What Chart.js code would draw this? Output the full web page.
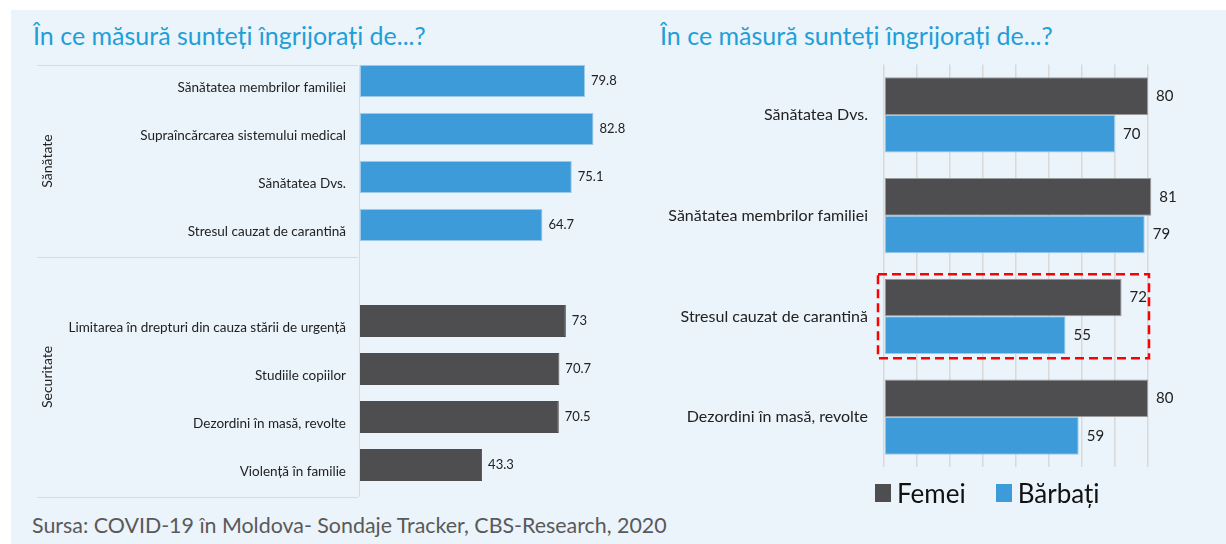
<!DOCTYPE html>
<html>
<head>
<meta charset="utf-8">
<script src="https://cdn.jsdelivr.net/npm/chart.js@4/dist/chart.umd.min.js"></script>
<style>
  body { margin: 0; background: #fff; width: 1226px; height: 544px; overflow: hidden; font-family: Lato, "Noto Sans", sans-serif; }
  #panel { position: absolute; left: 11px; top: 10px; width: 1215px; height: 534px; background: #EBF3FB; }
  .title { position: absolute; top: 20px; font-size: 25px; line-height: 30px; color: #1E9FD8; white-space: nowrap; }
  canvas { position: absolute; }
  #legend { position: absolute; left: 875px; top: 477px; display: flex; gap: 30px; font-size: 26px; color: #111; }
  #legend span.item { display: flex; align-items: center; gap: 6px; }
  #legend span.box { width: 16px; height: 18px; display: inline-block; }
  #source { position: absolute; left: 32px; top: 512px; font-size: 21.4px; color: #595959; white-space: nowrap; }
</style>
</head>
<body>
<div id="panel"></div>
<div class="title" style="left:33px">În ce măsură sunteți îngrijorați de...?</div>
<div class="title" style="left:660px">În ce măsură sunteți îngrijorați de...?</div>
<canvas id="left" width="612" height="476" style="left:30px; top:35px"></canvas>
<canvas id="right" width="560" height="454" style="left:640px; top:39px"></canvas>
<div id="legend"></div>
<div id="source">Sursa: COVID-19 în Moldova- Sondaje Tracker, CBS-Research, 2020</div>
<script>
// --- date grafic stânga (un rând gol separă grupurile)
const leftLabels = [
  "Sănătatea membrilor familiei",
  "Supraîncărcarea sistemului medical",
  "Sănătatea Dvs.",
  "Stresul cauzat de carantină",
  "",
  "Limitarea în drepturi din cauza stării de urgență",
  "Studiile copiilor",
  "Dezordini în masă, revolte",
  "Violență în familie",
];
const leftValues = [79.8, 82.8, 75.1, 64.7, null, 73, 70.7, 70.5, 43.3];
const groupNames = ["Sănătate", "Securitate"];
const groupEdges = [0, 4, 9];

// --- date grafic dreapta
const rightLabels = [
  "Sănătatea Dvs.",
  "Sănătatea membrilor familiei",
  "Stresul cauzat de carantină",
  "Dezordini în masă, revolte",
];
const femei = [80, 81, 72, 80];
const barbati = [70, 79, 55, 59];
const highlightIndex = 2;

const BLUE = "#3E9BD9";
const DARK = "#4E4E50";
const FONT = "Lato";

// etichete cu valori la capătul barelor
const valueLabels = {
  id: "valueLabels",
  afterDatasetsDraw(chart, args, opts) {
    const ctx = chart.ctx;
    ctx.save();
    ctx.font = opts.size + "px " + FONT;
    ctx.fillStyle = "#222";
    ctx.textAlign = "left";
    ctx.textBaseline = "middle";
    chart.data.datasets.forEach((ds, i) => {
      chart.getDatasetMeta(i).data.forEach((bar, j) => {
        const v = ds.data[j];
        if (v == null) return;
        ctx.fillText(String(v), bar.x + opts.offset, bar.y);
      });
    });
    ctx.restore();
  },
};

// linii de separare + denumirile grupurilor (stânga)
const groupPlugin = {
  id: "groups",
  beforeDatasetsDraw(chart) {
    const { ctx, chartArea, scales } = chart;
    const y = scales.y;
    const step = y.getPixelForValue(1) - y.getPixelForValue(0);
    const at = (v) => y.getPixelForValue(v) - step / 3;
    ctx.save();
    ctx.strokeStyle = "#d6dbe0";
    ctx.lineWidth = 1;
    groupEdges.forEach((e) => {
      const py = Math.round(at(e)) + 0.5;
      ctx.beginPath();
      ctx.moveTo(7, py);
      ctx.lineTo(chartArea.left - 2, py);
      ctx.stroke();
    });
    const ax = Math.round(chartArea.left) - 0.5;
    ctx.beginPath();
    ctx.moveTo(ax, at(groupEdges[0]));
    ctx.lineTo(ax, at(groupEdges[groupEdges.length - 1]));
    ctx.stroke();

    ctx.fillStyle = "#222";
    ctx.font = "14px " + FONT;
    ctx.textAlign = "center";
    ctx.textBaseline = "middle";
    groupNames.forEach((name, i) => {
      const cy = (at(groupEdges[i]) + at(groupEdges[i + 1])) / 2;
      ctx.save();
      ctx.translate(17, cy);
      ctx.rotate(-Math.PI / 2);
      ctx.fillText(name, 0, 0);
      ctx.restore();
    });
    ctx.restore();
  },
};

// chenar roșu punctat (dreapta)
const highlightBox = {
  id: "highlightBox",
  afterDatasetsDraw(chart) {
    const { ctx, chartArea, scales } = chart;
    const y = scales.y, x = scales.x;
    const step = y.getPixelForValue(1) - y.getPixelForValue(0);
    const cy = y.getPixelForValue(highlightIndex);
    const top = cy - step * 0.417;
    const bottom = cy + step * 0.417;
    const l = chartArea.left - 6;
    const r = x.getPixelForValue(80) + 1;
    ctx.save();
    ctx.strokeStyle = "#FF0000";
    ctx.lineWidth = 2.5;
    ctx.setLineDash([9, 5]);
    ctx.strokeRect(l, top, r - l, bottom - top);
    ctx.restore();
  },
};

new Chart(document.getElementById("left"), {
  type: "bar",
  data: {
    labels: leftLabels,
    datasets: [
      {
        data: leftValues,
        backgroundColor: leftValues.map((_, i) => (i < 4 ? BLUE : DARK)),
        borderColor: leftValues.map((_, i) => (i < 4 ? "#9CC9EA" : DARK)),
        borderWidth: 1,
        borderSkipped: false,
        barPercentage: 0.667,
        categoryPercentage: 1,
      },
    ],
  },
  options: {
    indexAxis: "y",
    responsive: false,
    animation: false,
    layout: { padding: 0 },
    plugins: {
      legend: { display: false },
      tooltip: { enabled: false },
      valueLabels: { size: 13, offset: 6 },
    },
    scales: {
      x: { display: false, min: 0, max: 100 },
      y: {
        grid: { display: false, drawTicks: false },
        border: { display: false },
        ticks: { color: "#222", font: { family: FONT, size: 13.5 }, padding: 14, labelOffset: 7, autoSkip: false },
        afterFit: (s) => { s.width = 330; },
      },
    },
  },
  plugins: [groupPlugin, valueLabels],
});

const rightChart = new Chart(document.getElementById("right"), {
  type: "bar",
  data: {
    labels: rightLabels,
    datasets: [
      { label: "Femei", data: femei, backgroundColor: DARK, borderColor: "#9a9a9a", borderWidth: 1, borderSkipped: false },
      { label: "Bărbați", data: barbati, backgroundColor: BLUE, borderColor: "#9CC9EA", borderWidth: 1, borderSkipped: false },
    ],
  },
  options: {
    indexAxis: "y",
    responsive: false,
    animation: false,
    datasets: { bar: { barPercentage: 1, categoryPercentage: 0.748, clip: false } },
    layout: { padding: { top: 0, bottom: 0, left: 0, right: 52 } },
    plugins: {
      legend: { display: false },
      tooltip: { enabled: false },
      valueLabels: { size: 15, offset: 8 },
    },
    scales: {
      x: {
        min: 0,
        max: 80,
        ticks: { display: false, stepSize: 10 },
        grid: { color: "#d9d9d9", lineWidth: 1.5, drawTicks: false },
        border: { display: false },
      },
      y: {
        grid: { display: false, drawTicks: false },
        border: { display: false },
        ticks: { color: "#222", font: { family: FONT, size: 16 }, padding: 16 },
        afterFit: (s) => { s.width = 244; },
      },
    },
  },
  plugins: [highlightBox, valueLabels],
});

// legenda HTML construită din seturile de date
const legendEl = document.getElementById("legend");
rightChart.data.datasets.forEach((ds) => {
  const item = document.createElement("span");
  item.className = "item";
  const box = document.createElement("span");
  box.className = "box";
  box.style.background = ds.backgroundColor;
  item.appendChild(box);
  item.appendChild(document.createTextNode(ds.label));
  legendEl.appendChild(item);
});
</script>
</body>
</html>
